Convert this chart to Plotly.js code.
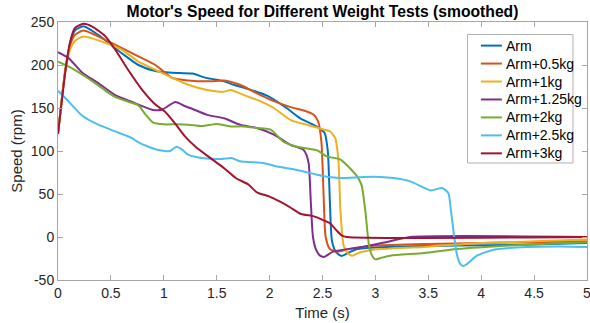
<!DOCTYPE html>
<html>
<head>
<meta charset="utf-8">
<script src="https://cdn.plot.ly/plotly-3.0.1.min.js"></script>
<style>html,body{margin:0;padding:0;background:#fff;}#chart{width:590px;height:323px;}</style>
</head>
<body>
<div id="chart"></div>
<script>
// Series names
const seriesNames = ["Arm", "Arm+0.5kg", "Arm+1kg", "Arm+1.25kg", "Arm+2kg", "Arm+2.5kg", "Arm+3kg"];

// Arm
const armT = [0, 0.07, 0.12, 0.16, 0.24, 0.38, 0.6, 0.76, 0.92, 1.08, 1.27, 1.4, 1.57, 1.66, 1.8, 1.98, 2.16, 2.29, 2.45, 2.52, 2.55, 2.57, 2.59, 2.63, 2.68, 2.75, 2.83, 3.1, 3.77, 4.4, 5];
const armV = [120, 195, 228, 240, 245, 235, 214, 200, 193, 191, 190, 185, 181, 177, 172, 164, 150, 138, 128, 121, 100, 40, -5, -18, -22, -18, -14, -11.5, -10, -9, -7];

// Arm+0.5kg
const arm05T = [0, 0.07, 0.12, 0.16, 0.24, 0.45, 0.6, 0.76, 0.92, 1.08, 1.23, 1.44, 1.57, 1.72, 1.88, 2.04, 2.2, 2.35, 2.42, 2.46, 2.49, 2.51, 2.53, 2.57, 2.64, 2.75, 3.0, 3.5, 4.0, 4.5, 5];
const arm05V = [120, 195, 225, 235, 240, 229, 220, 210, 200, 185, 182, 181, 182, 177, 167, 158, 151, 146, 142, 134, 110, 50, 0, -14, -17, -14, -10, -8, -7, -6, -5];

// Arm+1kg
const arm1T = [0, 0.07, 0.12, 0.16, 0.24, 0.45, 0.6, 0.76, 0.92, 1.08, 1.23, 1.41, 1.57, 1.63, 1.79, 1.91, 2.04, 2.2, 2.35, 2.51, 2.57, 2.62, 2.65, 2.67, 2.7, 2.74, 2.78, 2.85, 2.98, 3.46, 4.0, 4.5, 5];
const arm1V = [120, 193, 220, 228, 233, 225.6, 218, 204, 194.5, 185, 177, 171, 169, 171, 163.5, 158, 150, 136, 130.6, 125, 123, 115, 90, 30, -10, -19, -21.7, -18, -14.8, -11.6, -7, -5, -3];

// Arm+1.25kg
const arm125T = [0, 0.1, 0.23, 0.38, 0.54, 0.7, 0.89, 0.98, 1.11, 1.2, 1.25, 1.41, 1.57, 1.72, 1.88, 2.04, 2.2, 2.32, 2.35, 2.37, 2.39, 2.41, 2.44, 2.48, 2.52, 2.6, 2.86, 3.1, 3.33, 5];
const arm125V = [215, 208, 191, 179, 165, 157, 148, 148, 157, 152, 150, 142, 138, 130.6, 126.7, 119, 107, 101.5, 95, 85, 40, 0, -15, -22, -23, -17, -12, -6, 0, 0];

// Arm+2kg
const arm2T = [0, 0.13, 0.29, 0.45, 0.54, 0.67, 0.76, 0.83, 0.9, 1.0, 1.11, 1.23, 1.36, 1.5, 1.63, 1.75, 1.88, 2.01, 2.13, 2.26, 2.45, 2.54, 2.67, 2.83, 2.87, 2.905, 2.94, 2.97, 3.0, 3.06, 3.14, 3.46, 3.77, 4.4, 5];
const arm2V = [204, 196.5, 184, 170, 163, 157, 153, 142, 133, 131, 131, 130.6, 129, 131.5, 128.6, 128.6, 126.7, 124.8, 111, 105, 100.7, 93.7, 90, 70, 60, 30, -10, -22, -26, -24, -21.7, -18.6, -14, -9, -6];

// Arm+2.5kg
const arm25T = [0, 0.1, 0.23, 0.38, 0.54, 0.7, 0.76, 0.92, 1.01, 1.06, 1.12, 1.18, 1.23, 1.36, 1.55, 1.64, 1.72, 1.94, 2.07, 2.26, 2.45, 2.54, 2.67, 2.89, 3.05, 3.17, 3.33, 3.52, 3.63, 3.69, 3.71, 3.74, 3.77, 3.8, 3.83, 3.87, 3.96, 4.12, 4.43, 4.75, 5];
const arm25V = [170, 157.7, 141, 130.6, 122.8, 115, 110, 102, 100, 100, 105, 101, 95.7, 91.8, 90.7, 91.8, 88, 86, 82, 78, 72.4, 70, 68.6, 69.8, 69.8, 68.6, 64.7, 54.2, 57, 51, 35, 5, -20, -31, -34, -31, -21.7, -14.8, -11.6, -11, -11.6];

// Arm+3kg
const arm3T = [0, 0.07, 0.115, 0.16, 0.24, 0.32, 0.45, 0.54, 0.67, 0.79, 0.92, 1.01, 1.1, 1.2, 1.3, 1.46, 1.57, 1.68, 1.8, 1.88, 2.0, 2.1, 2.2, 2.29, 2.42, 2.5, 2.57, 2.63, 2.68, 2.73, 5];
const arm3V = [120, 193, 227, 243, 248, 245, 233, 218, 193, 172, 154, 146, 133, 117, 105, 90, 80, 68.6, 61, 52, 47, 41, 34, 27, 24, 20, 16, 8, 2, 0, 0];

// Axis ticks
const xTicks = [0, 0.5, 1, 1.5, 2, 2.5, 3, 3.5, 4, 4.5, 5];
const xTickLabels = ["0", "0.5", "1", "1.5", "2", "2.5", "3", "3.5", "4", "4.5", "5"];
const yTicks = [-50, 0, 50, 100, 150, 200, 250];
const yTickLabels = ["-50", "0", "50", "100", "150", "200", "250"];

const colors = ["#0072BD", "#D95319", "#EDB120", "#7E2F8E", "#77AC30", "#4DBEEE", "#A2142F"];
const xs = [armT, arm05T, arm1T, arm125T, arm2T, arm25T, arm3T];
const ys = [armV, arm05V, arm1V, arm125V, arm2V, arm25V, arm3V];

const traces = seriesNames.map((n, i) => ({
  x: xs[i], y: ys[i], name: n, type: 'scatter', mode: 'lines', showlegend: false,
  line: {color: colors[i], width: 2, shape: 'spline', smoothing: 0.6}
}));

const fontFam = '"Liberation Sans", Arial, Helvetica, sans-serif';
const axCol = '#a6a6a6';
const axisCommon = {
  showgrid: false, zeroline: false, showline: true, linecolor: axCol, linewidth: 1,
  mirror: 'ticks', ticks: 'inside', ticklen: 5, tickcolor: axCol, tickwidth: 1,
  tickfont: {family: fontFam, size: 14, color: '#262626'}, tickmode: 'array',
  ticklabeloverflow: 'allow'
};

// Custom legend (MATLAB-style compact box) in paper coordinates
const lgX0 = 0.7741, lgX1 = 0.9735, lgY0 = 0.4535, lgY1 = 0.9516;
const lgRowTop = 0.9085, lgRowStep = 0.0696;
const lgLineX0 = 0.7994, lgLineX1 = 0.8391, lgTextX = 0.8422;
const shapes = [{type: 'rect', xref: 'paper', yref: 'paper', x0: lgX0, x1: lgX1, y0: lgY0, y1: lgY1,
                 line: {color: '#b0b0b0', width: 1}, fillcolor: '#ffffff', layer: 'above'}];
const annotations = [];
seriesNames.forEach((n, i) => {
  const yy = lgRowTop - i * lgRowStep;
  shapes.push({type: 'line', xref: 'paper', yref: 'paper', x0: lgLineX0, x1: lgLineX1, y0: yy, y1: yy,
               line: {color: colors[i], width: 2}, layer: 'above'});
  annotations.push({xref: 'paper', yref: 'paper', x: lgTextX, y: yy, xanchor: 'left', yanchor: 'middle',
                    text: n, showarrow: false, font: {family: fontFam, size: 14, color: '#000'}, xshift: 0, yshift: 0});
});

const layout = {
  width: 590, height: 323,
  margin: {l: 58, r: 3, t: 22, b: 43},
  paper_bgcolor: '#ffffff', plot_bgcolor: '#ffffff',
  font: {family: fontFam, color: '#262626'},
  title: {text: "Motor's Speed for Different Weight Tests (smoothed)", font: {family: fontFam, size: 15.7, weight: 'bold', color: '#000'},
          x: 0.5, xref: 'paper', xanchor: 'center', y: 0.963, yref: 'container', yanchor: 'middle'},
  xaxis: Object.assign({}, axisCommon, {range: [0, 5], tickvals: xTicks, ticktext: xTickLabels,
          title: {text: 'Time (s)', font: {family: fontFam, size: 15, color: '#262626'}, standoff: 7}}),
  yaxis: Object.assign({}, axisCommon, {range: [-50, 250], tickvals: yTicks, ticktext: yTickLabels,
          title: {text: 'Speed (rpm)', font: {family: fontFam, size: 15, color: '#262626'}, standoff: 4}}),
  showlegend: false,
  shapes: shapes,
  annotations: annotations
};

Plotly.newPlot('chart', traces, layout, {displayModeBar: false, staticPlot: true});
</script>
</body>
</html>
